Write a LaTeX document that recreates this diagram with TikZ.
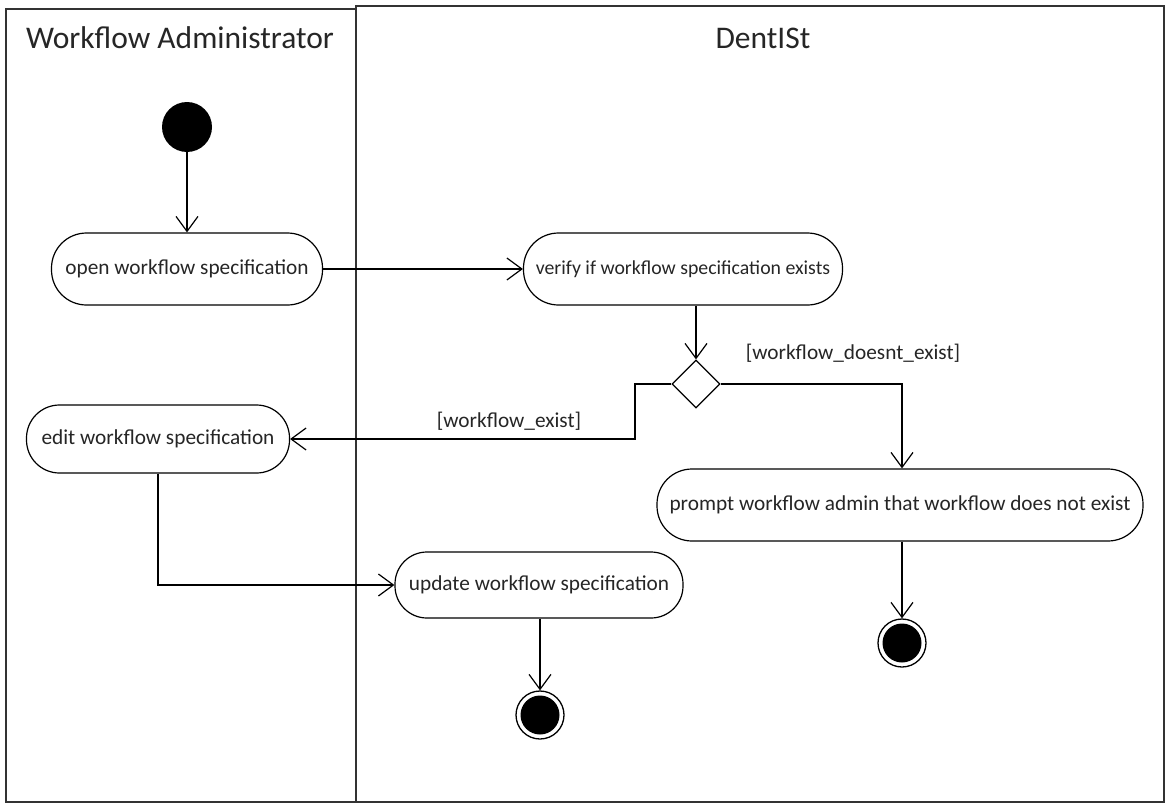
\documentclass[tikz,border=0pt]{standalone}
\usepackage{fontspec}
\setmainfont{Carlito}
\usetikzlibrary{arrows.meta,shapes.geometric}
\definecolor{ink}{HTML}{262626}
\begin{document}
\begin{tikzpicture}[x=1pt,y=-1pt,
  lane/.style={draw=black!80,line width=2.2pt},
  header/.style={font=\fontsize{31.5}{34}\selectfont,text=ink},
  action/.style={draw,line width=1.2pt,rounded corners=35pt,minimum height=72pt,
    inner sep=0pt,font=\fontsize{21.3}{24}\selectfont,text=ink},
  guard/.style={font=\fontsize{21.3}{24}\selectfont,text=ink},
  startnode/.style={circle,fill=black,minimum size=50pt,inner sep=0pt},
  endnode/.style={circle,draw,line width=1.3pt,minimum size=48pt,inner sep=0pt,
    path picture={\fill (path picture bounding box.center) circle (19.5pt);}},
  decision/.style={diamond,draw,line width=1.2pt,minimum size=48pt,inner sep=0pt,aspect=1},
  flow/.style={line width=1.2pt,-{Straight Barb[length=15pt,width=22pt,line width=1.2pt]}}]

\useasboundingbox (0,0) rectangle (1168,803);
\fill[white] (0,0) rectangle (1168,803);

% swimlanes
\draw[lane] (356,6) rectangle (1164,802);
\draw[lane] (6,9) rectangle (356,802);
\node[header] (hadmin) at (180,38) {Workflow Administrator};
\node[header] (hdent) at (763,38) {DentISt};

% activity nodes
\node[startnode] (start) at (187,127) {};
\node[action,minimum width=271pt] (open) at (187,269) {open workflow specification};
\node[action,minimum width=319pt,font=\fontsize{19.8}{23}\selectfont] (verify) at (683,269) {verify if workflow specification exists};
\node[decision] (dec) at (696,384) {};
\node[action,minimum width=263pt,minimum height=68pt,rounded corners=33pt] (edit) at (158,439) {edit workflow specification};
\node[action,minimum width=486pt] (prompt) at (900,505) {prompt workflow admin that workflow does not exist};
\node[action,minimum width=288pt,minimum height=66pt,rounded corners=32pt] (update) at (539,585) {update workflow specification};
\node[endnode] (endU) at (540,715) {};
\node[endnode] (endR) at (902,643) {};

% guards
\node[guard] (gexist) at (509,421) {[workflow\_exist]};
\node[guard] (gnot) at (853,353) {[workflow\_doesnt\_exist]};

% control flow
\coordinate (jl) at (635,384);
\draw[flow] (start) -- (open);
\draw[flow] (open) -- (verify);
\draw[flow] (dec.north |- verify.south) -- (dec.north);
\draw[flow] (dec.west) -- (jl) |- (edit.east);
\draw[flow] (dec.east) -| (endR.north |- prompt.north);
\draw[flow] (prompt.south -| endR) -- (endR);
\draw[flow] (edit.south) |- (update.west);
\draw[flow] (update.south -| endU) -- (endU);
\end{tikzpicture}
\end{document}
